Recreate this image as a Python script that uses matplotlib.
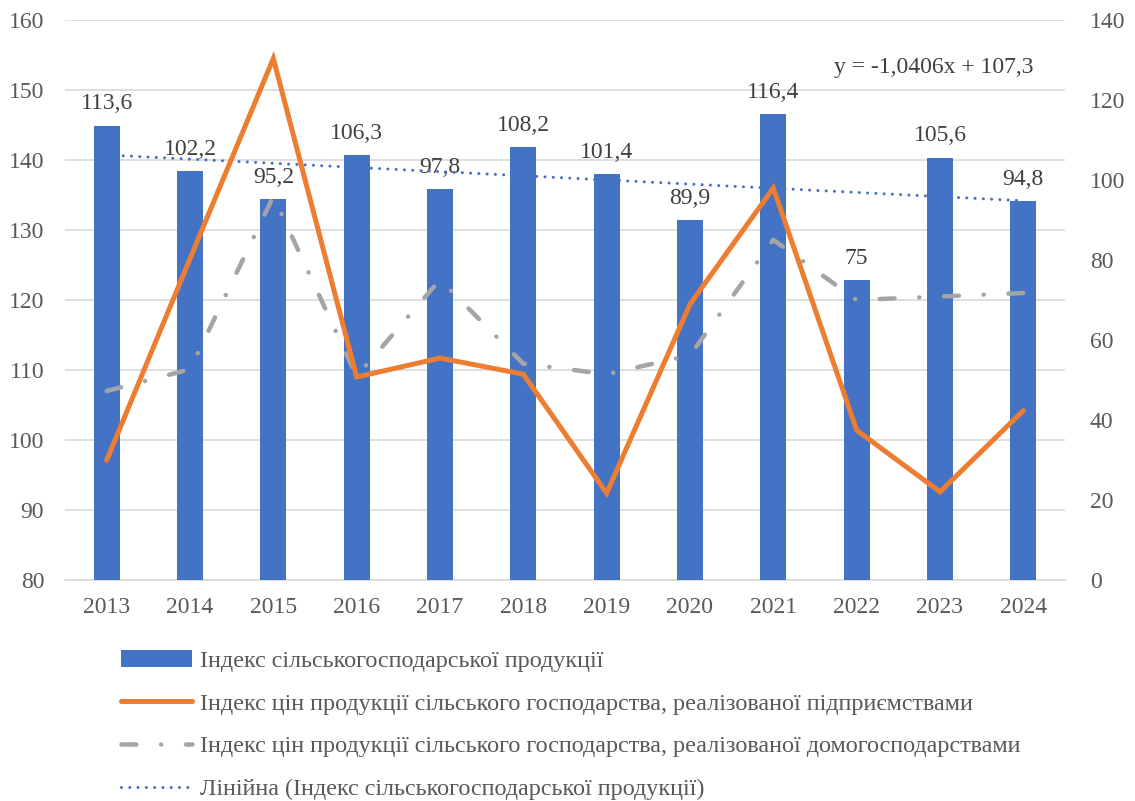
import matplotlib
matplotlib.use("Agg")
import matplotlib.pyplot as plt
import numpy as np

years = ["2013", "2014", "2015", "2016", "2017", "2018", "2019", "2020", "2021", "2022", "2023", "2024"]
agri_index = [113.6, 102.2, 95.2, 106.3, 97.8, 108.2, 101.4, 89.9, 116.4, 75, 105.6, 94.8]
price_enterprises = [97.1, 125.9, 154.5, 109.0, 111.7, 109.4, 92.4, 119.4, 136.0, 101.4, 92.6, 104.2]
price_households = [107.0, 110.1, 134.8, 109.1, 122.9, 110.9, 109.4, 112.1, 128.6, 120.0, 120.5, 121.0]

labels = [
    "Індекс сільськогосподарської продукції",
    "Індекс цін продукції сільського господарства, реалізованої підприємствами",
    "Індекс цін продукції сільського господарства, реалізованої домогосподарствами",
    "Лінійна (Індекс сільськогосподарської продукції)",
]

plt.rcParams['font.family'] = ['Liberation Serif', 'DejaVu Serif']
FS = 17
LFS = 17.4
TXT = "#595959"

fig = plt.figure(figsize=(11.35, 8.01), dpi=100)
axL = fig.add_axes([65/1135, 1-580/801, 1000/1135, 560/801])
axR = axL.twinx()

x = np.arange(len(years))

# left axis
axL.set_ylim(80, 160)
axL.set_yticks(np.arange(80, 161, 10))
axL.set_xlim(-0.5, len(years)-0.5)
axL.grid(axis='y', color='#d9d9d9', lw=1.2)
axL.set_axisbelow(True)
for s in ['top', 'right', 'left']:
    axL.spines[s].set_visible(False)
axL.spines['bottom'].set_color('#d9d9d9')
axL.spines['bottom'].set_linewidth(1.2)
axL.tick_params(axis='y', length=0, pad=15, labelsize=FS, labelcolor=TXT)
axL.tick_params(axis='x', length=0, pad=12, labelsize=FS, labelcolor=TXT)
axL.set_xticks(x)
axL.set_xticklabels(years)

# right axis
axR.set_ylim(0, 140)
axR.set_yticks(np.arange(0, 141, 20))
for s in ['top', 'right', 'left', 'bottom']:
    axR.spines[s].set_visible(False)
axR.tick_params(axis='y', length=0, pad=18, labelsize=FS, labelcolor=TXT)

# bars on right axis
bars = axR.bar(x, agri_index, width=0.31, color='#4472C4', zorder=1, label=labels[0])
for xi, v in zip(x, agri_index):
    s = f"{v:g}".replace('.', ',')
    axR.annotate(s, (xi, v), xytext=(0, 8), textcoords='offset points',
                 ha='center', va='bottom', fontsize=FS, color='#404040')

# trend line (linear fit of bar data)
t = np.arange(1, len(years)+1)
k, b = np.polyfit(t, agri_index, 1)
trend, = axR.plot(x, k*t + b, color='#4472C4', lw=2.2, dashes=(0.01, 2.7),
                  dash_capstyle='round', zorder=4, label=labels[3])
axR.text(0.869, 0.915, "y = -1,0406x + 107,3", transform=axR.transAxes,
         ha='center', va='center', fontsize=FS, color='#404040')

# lines on left axis scale, drawn above bars
axT = axL.twinx()
axT.set_ylim(80, 160)
axT.axis('off')
gray, = axT.plot(x, price_households, color='#A5A5A5', lw=3.24,
                 dashes=(3.3, 5.5, 0.02, 5.5), dash_capstyle='round',
                 solid_capstyle='round', zorder=3, label=labels[2])
orange, = axT.plot(x, price_enterprises, color='#ED7D31', lw=3.6,
                   solid_joinstyle='miter', solid_capstyle='round', zorder=3, label=labels[1])

axR.set_zorder(1)
axT.set_zorder(2)
axL.set_zorder(0)
axR.patch.set_visible(False)

leg = fig.legend([bars, orange, gray, trend], labels, loc='upper left',
                 bbox_to_anchor=(121/1135, 1-650/801), frameon=False,
                 fontsize=LFS, labelcolor=TXT, handlelength=2.95, handletextpad=0.3,
                 labelspacing=0.86, borderaxespad=0, borderpad=0)

fig.savefig("out.png", dpi=100)
